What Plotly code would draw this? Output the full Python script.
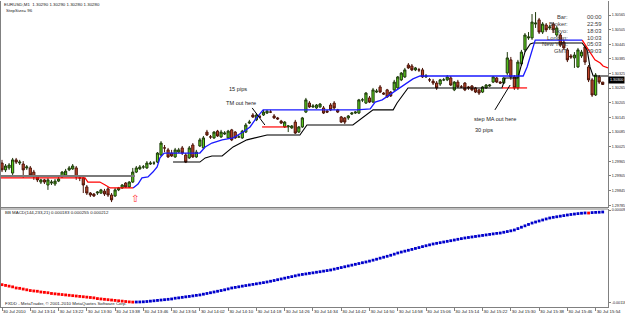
import plotly.graph_objects as go
import pandas as pd

# ---------------- data ----------------
times = pd.date_range("2010-07-30 13:06", periods=171, freq="min")
bars = list(range(171))

open_ = [1.29958,1.29930,1.29938,1.29917,1.29971,1.29958,1.29954,1.29938,1.29938,1.29921,
         1.29901,1.29880,1.29889,1.29868,1.29876,1.29872,1.29884,1.29901,1.29909,1.29930,
         1.29934,1.29938,1.29897,1.29897,1.29860,1.29835,1.29831,1.29835,1.29835,1.29843,
         1.29852,1.29827,1.29823,1.29848,1.29856,1.29876,1.29860,1.29880,1.29921,1.29934,
         1.29942,1.29938,1.29954,1.29958,1.29962,1.29991,1.30020,1.30012,1.29999,1.29983,
         1.30003,1.30020,1.29991,1.29979,1.30032,1.29983,1.30028,1.30020,1.30085,1.30065,
         1.30061,1.30089,1.30065,1.30077,1.30061,1.30094,1.30085,1.30065,1.30061,1.30085,
         1.30122,1.30155,1.30135,1.30147,1.30155,1.30163,1.30167,1.30151,1.30143,1.30130,
         1.30106,1.30106,1.30102,1.30126,1.30085,1.30106,1.30167,1.30204,1.30188,1.30184,
         1.30188,1.30184,1.30171,1.30196,1.30204,1.30176,1.30147,1.30143,1.30143,1.30159,
         1.30163,1.30163,1.30217,1.30204,1.30225,1.30208,1.30249,1.30270,1.30245,1.30258,
         1.30249,1.30258,1.30266,1.30299,1.30311,1.30360,1.30356,1.30340,1.30340,1.30340,
         1.30311,1.30299,1.30294,1.30286,1.30282,1.30299,1.30299,1.30307,1.30258,1.30290,
         1.30270,1.30286,1.30270,1.30274,1.30266,1.30258,1.30249,1.30266,1.30274,1.30290,
         1.30307,1.30290,1.30286,1.30327,1.30381,1.30311,1.30266,1.30364,1.30422,1.30471,
         1.30471,1.30528,1.30545,1.30495,1.30524,1.30512,1.30528,1.30483,1.30483,1.30454,
         1.30422,1.30397,1.30389,1.30352,1.30397,1.30434,1.30352,1.30299,1.30237,1.30311,
         1.30290]
close = [1.29930,1.29946,1.29950,1.29971,1.29962,1.29962,1.29930,1.29942,1.29909,1.29901,
         1.29889,1.29889,1.29880,1.29889,1.29880,1.29884,1.29893,1.29921,1.29925,1.29938,
         1.29946,1.29901,1.29897,1.29868,1.29835,1.29827,1.29823,1.29839,1.29848,1.29831,
         1.29827,1.29807,1.29848,1.29856,1.29868,1.29860,1.29880,1.29921,1.29938,1.29942,
         1.29942,1.29958,1.29958,1.29958,1.29999,1.30040,1.30020,1.29983,1.29987,1.30012,
         1.30012,1.29999,1.29962,1.30020,1.29983,1.30003,1.30053,1.30061,1.30073,1.30065,
         1.30085,1.30069,1.30085,1.30081,1.30089,1.30053,1.30061,1.30065,1.30089,1.30114,
         1.30126,1.30147,1.30155,1.30147,1.30167,1.30171,1.30167,1.30143,1.30139,1.30122,
         1.30126,1.30110,1.30110,1.30081,1.30106,1.30143,1.30217,1.30188,1.30192,1.30196,
         1.30200,1.30163,1.30167,1.30176,1.30184,1.30167,1.30126,1.30126,1.30151,1.30163,
         1.30167,1.30217,1.30217,1.30245,1.30208,1.30258,1.30253,1.30249,1.30241,1.30229,
         1.30233,1.30290,1.30311,1.30327,1.30340,1.30348,1.30340,1.30348,1.30340,1.30311,
         1.30315,1.30299,1.30286,1.30266,1.30299,1.30299,1.30311,1.30278,1.30290,1.30270,
         1.30270,1.30258,1.30266,1.30258,1.30249,1.30245,1.30270,1.30278,1.30278,1.30311,
         1.30290,1.30286,1.30307,1.30389,1.30311,1.30266,1.30372,1.30413,1.30483,1.30475,
         1.30536,1.30532,1.30495,1.30528,1.30504,1.30516,1.30504,1.30512,1.30442,1.30430,
         1.30381,1.30393,1.30401,1.30422,1.30413,1.30372,1.30299,1.30237,1.30319,1.30290,
         1.30280]
high = [1.29971,1.29954,1.29958,1.29979,1.29979,1.29971,1.29966,1.29950,1.29946,1.29930,
        1.29909,1.29893,1.29893,1.29897,1.29889,1.29893,1.29901,1.29925,1.29934,1.29946,
        1.29954,1.29946,1.29909,1.29905,1.29868,1.29839,1.29835,1.29843,1.29852,1.29852,
        1.29860,1.29835,1.29856,1.29860,1.29872,1.29880,1.29884,1.29938,1.29946,1.29950,
        1.29950,1.29966,1.29966,1.29966,1.30003,1.30048,1.30032,1.30020,1.30012,1.30020,
        1.30020,1.30028,1.29999,1.30028,1.30040,1.30012,1.30061,1.30069,1.30094,1.30073,
        1.30089,1.30094,1.30094,1.30089,1.30094,1.30098,1.30089,1.30073,1.30094,1.30122,
        1.30135,1.30163,1.30163,1.30155,1.30176,1.30176,1.30176,1.30159,1.30147,1.30135,
        1.30130,1.30114,1.30114,1.30135,1.30110,1.30147,1.30225,1.30212,1.30200,1.30200,
        1.30204,1.30192,1.30176,1.30204,1.30212,1.30180,1.30151,1.30147,1.30155,1.30167,
        1.30171,1.30221,1.30225,1.30249,1.30233,1.30266,1.30262,1.30278,1.30249,1.30262,
        1.30253,1.30299,1.30315,1.30331,1.30348,1.30368,1.30364,1.30352,1.30348,1.30348,
        1.30323,1.30307,1.30303,1.30294,1.30303,1.30307,1.30319,1.30315,1.30294,1.30299,
        1.30278,1.30290,1.30274,1.30278,1.30270,1.30262,1.30274,1.30282,1.30282,1.30315,
        1.30311,1.30294,1.30311,1.30413,1.30393,1.30319,1.30381,1.30422,1.30491,1.30495,
        1.30569,1.30577,1.30553,1.30536,1.30532,1.30524,1.30536,1.30520,1.30491,1.30463,
        1.30430,1.30405,1.30413,1.30430,1.30422,1.30442,1.30360,1.30307,1.30327,1.30319,
        1.30290]
low = [1.29921,1.29921,1.29930,1.29909,1.29954,1.29950,1.29897,1.29930,1.29901,1.29889,
       1.29880,1.29872,1.29872,1.29848,1.29868,1.29864,1.29880,1.29897,1.29905,1.29925,
       1.29930,1.29889,1.29884,1.29835,1.29827,1.29819,1.29819,1.29827,1.29831,1.29823,
       1.29819,1.29798,1.29819,1.29843,1.29852,1.29856,1.29856,1.29876,1.29917,1.29930,
       1.29934,1.29934,1.29950,1.29950,1.29958,1.29987,1.30003,1.29979,1.29983,1.29979,
       1.29999,1.29991,1.29958,1.29975,1.29979,1.29979,1.30024,1.30016,1.30069,1.30057,
       1.30057,1.30065,1.30061,1.30073,1.30057,1.30048,1.30057,1.30061,1.30057,1.30081,
       1.30118,1.30143,1.30130,1.30143,1.30151,1.30159,1.30163,1.30139,1.30135,1.30118,
       1.30102,1.30085,1.30098,1.30077,1.30081,1.30102,1.30163,1.30184,1.30184,1.30180,
       1.30184,1.30159,1.30163,1.30171,1.30176,1.30163,1.30122,1.30118,1.30135,1.30155,
       1.30159,1.30159,1.30208,1.30200,1.30204,1.30204,1.30245,1.30245,1.30237,1.30225,
       1.30229,1.30253,1.30262,1.30294,1.30307,1.30344,1.30335,1.30335,1.30331,1.30307,
       1.30307,1.30290,1.30278,1.30258,1.30274,1.30294,1.30294,1.30274,1.30253,1.30266,
       1.30266,1.30253,1.30258,1.30253,1.30245,1.30237,1.30245,1.30262,1.30270,1.30286,
       1.30286,1.30282,1.30282,1.30319,1.30299,1.30258,1.30258,1.30356,1.30413,1.30463,
       1.30463,1.30512,1.30487,1.30487,1.30495,1.30504,1.30491,1.30475,1.30434,1.30422,
       1.30372,1.30385,1.30348,1.30348,1.30389,1.30360,1.30290,1.30229,1.30233,1.30282,
       1.30280]

# BB MACD values (x 1e-5)
macd_e5 = [-93,-94,-95,-96,-97.5,-98,-99,-100,-101,-101.6,
           -102,-103,-103.5,-104,-105,-105.5,-106,-106.5,-107,-107.5,
           -108,-108.5,-109,-109.5,-110,-110.5,-111,-112,-112.5,-113,
           -113.5,-114,-114.5,-115,-115.5,-116,-116.5,-116.8,-116.7,-116.6,
           -116.4,-116,-115.5,-115,-114.5,-114,-113.5,-113,-112.5,-111.5,
           -111,-110.3,-109.6,-109,-108.3,-107.6,-107,-106,-105,-104,
           -103,-102,-101,-100,-98.8,-97.5,-96.7,-95.9,-95,-94.2,
           -93.4,-92.6,-91.8,-91,-90.2,-89.3,-88.3,-87.3,-86.2,-85.2,
           -84.1,-83,-82,-80.9,-79.8,-79,-78.3,-77.5,-76.8,-76,
           -75.3,-74.5,-73.7,-72.9,-71.8,-70.7,-69.6,-68.5,-67.4,-66.3,
           -65.2,-64.1,-63,-62,-60.8,-59.5,-58.2,-56.8,-55.5,-54.2,
           -52.8,-51.3,-49.7,-48.4,-47.2,-46,-44.8,-43.5,-42.3,-41,
           -39.8,-38.6,-37.4,-36.5,-35.6,-34.7,-33.8,-32.9,-32,-31,
           -30.1,-29.2,-28.5,-27.8,-27.1,-26.4,-25.7,-25,-24.3,-23.6,
           -22.9,-22.4,-21.4,-20.4,-19.4,-18.3,-16.4,-14.5,-12.6,-10.7,
           -8.8,-7.4,-6,-4.6,-3.2,-1.9,-1,-0.2,0.6,1.4,
           2.2,2.9,3.5,4.1,4.6,5.0,4.9,5.5,5.8,6.0,
           6.3]

# indicator lines (bar index, price)
blue_bar = [37.1,38.5,39.6,41.3,42.7,43.9,44.7,45.9,56.0,57.5,59.4,62.3,65.4,68.2,70.2,71.6,
            73.9,100.5,104.2,105.6,107.6,110.4,112.7,114.6,116.3,118.3,147.5,148.6,150.0,150.9,164.2]
blue_val = [1.29856,1.29872,1.29897,1.29901,1.29921,1.29942,1.29979,1.29999,1.29999,1.30024,
            1.30040,1.30053,1.30061,1.30085,1.30106,1.30135,1.30176,1.30176,1.30180,1.30208,
            1.30217,1.30245,1.30266,1.30286,1.30303,1.30315,1.30315,1.30352,1.30422,1.30462,1.30462]
black_bar = [48.4,56.0,57.5,59.4,62.3,65.4,69.3,73.0,75.0,84.3,85.2,86.3,99.3,101.3,105.0,110.7,
             111.8,114.9,141.5,142.4,146.0,147.2,148.0,149.5,150.3,164.2,165.6,166.4,167.3,171.5]
black_val = [1.29962,1.29962,1.29979,1.29987,1.29987,1.30024,1.30053,1.30065,1.30073,1.30073,
             1.30094,1.30114,1.30114,1.30135,1.30176,1.30176,1.30204,1.30266,1.30266,1.30307,
             1.30307,1.30372,1.30413,1.30446,1.30450,1.30450,1.30422,1.30352,1.30315,1.30315]
red_left_bar = [-0.6,23.5,24.3,27.7,29.2,30.6,37.1]
red_left_val = [1.29897,1.29897,1.29880,1.29880,1.29868,1.29856,1.29856]
red_right_bar = [164.2,165.6,166.4,167.8,169.3,170.1,171.5]
red_right_val = [1.30462,1.30430,1.30413,1.30381,1.30368,1.30356,1.30348]
gray_segs = [([-0.6, 37.6], 1.29905), ([75.0, 84.3], 1.30073)]
exit_segs = [([73.6, 80.7], 1.30106), ([141.5, 148.6], 1.30266)]

price_ticks = [1.30565,1.30505,1.30445,1.30385,1.30325,1.30265,1.30205,1.30145,
               1.30085,1.30025,1.29965,1.29905,1.29845,1.29785]
tick_bars = list(range(0, 171, 8))
tick_text = ["30 Jul 2010" if i == 0 else "30 Jul " + times[i].strftime("%H:%M") for i in tick_bars]

info_labels = ["Bar:", "Broker:", "Tokyo:", "London:", "New York:", "GMT:"]
info_values = ["00:00", "22:59", "18:03", "10:03", "05:03", "09:03"]

# ---------------- figure ----------------
W, H = 625, 315
ML, MR, MT, MB = 0, 17, 1, 8
PW, PH = W - ML - MR, H - MT - MB
def px(x):  # pixel x -> paper
    return (x - ML) / PW
def py(y):  # pixel y -> paper
    return (H - MB - y) / PH

FONT = "Liberation Sans"
XR = [-0.57, 171.5]

fig = go.Figure()
fig.add_trace(go.Candlestick(
    x=bars, open=open_, high=high, low=low, close=close,
    increasing=dict(line=dict(color="#1f3a0c", width=1), fillcolor="#5cd11c"),
    decreasing=dict(line=dict(color="#4a1408", width=1), fillcolor="#c0442a"),
    whiskerwidth=0, hoverinfo="skip", xaxis="x", yaxis="y"))

for seg, v in gray_segs:
    fig.add_trace(go.Scatter(x=seg, y=[v, v], mode="lines",
                             line=dict(color="#7a7a7a", width=2.2), hoverinfo="skip"))
fig.add_trace(go.Scatter(x=black_bar, y=black_val, mode="lines",
                         line=dict(color="#000000", width=1.1), hoverinfo="skip"))
fig.add_trace(go.Scatter(x=[75.0, 84.3], y=[1.30073, 1.30073], mode="lines",
                         line=dict(color="#7a7a7a", width=2.2), hoverinfo="skip"))
fig.add_trace(go.Scatter(x=blue_bar, y=blue_val, mode="lines",
                         line=dict(color="#1a1aff", width=1.3), hoverinfo="skip"))
fig.add_trace(go.Scatter(x=red_left_bar, y=red_left_val, mode="lines",
                         line=dict(color="#ff0000", width=1.2), hoverinfo="skip"))
fig.add_trace(go.Scatter(x=red_right_bar, y=red_right_val, mode="lines",
                         line=dict(color="#ff0000", width=1.2), hoverinfo="skip"))
for seg, v in exit_segs:
    fig.add_trace(go.Scatter(x=seg, y=[v, v], mode="lines",
                             line=dict(color="#ff0000", width=1.2), hoverinfo="skip"))

macd = [v * 1e-5 for v in macd_e5]
dot_colors = ["#ff0000" if (i == 0 or macd[i] < macd[i - 1]) else "#0000cc" for i in range(len(macd))]
fig.add_trace(go.Scatter(x=bars, y=macd, mode="markers", xaxis="x2", yaxis="y2",
                         marker=dict(symbol="square", size=2.8, color=dot_colors, line=dict(width=0)),
                         hoverinfo="skip"))

axis_col = "#808080"
tf = dict(family=FONT, size=4.4, color="#222")
yf = dict(family=FONT, size=3.7, color="#222")
fig.update_layout(
    width=W, height=H, margin=dict(l=ML, r=MR, t=MT, b=MB, autoexpand=False),
    paper_bgcolor="white", plot_bgcolor="white", showlegend=False, boxgap=0.12,
    xaxis=dict(domain=[0, 1], range=XR, anchor="y", showticklabels=False, showgrid=False,
               zeroline=False, rangeslider=dict(visible=False), showline=True,
               linecolor=axis_col, linewidth=1, ticks="", automargin=False),
    yaxis=dict(domain=[py(207), 1], range=[1.297778, 1.306224], side="right", anchor="x",
               tickvals=price_ticks, tickformat=".5f", ticks="outside", ticklen=2,
               tickcolor=axis_col, tickfont=yf, showline=True, linecolor=axis_col,
               showgrid=False, zeroline=False, automargin=False),
    xaxis2=dict(domain=[0, 1], range=XR, anchor="y2", tickvals=tick_bars, ticktext=tick_text,
                ticks="outside", ticklen=3, tickcolor=axis_col, tickfont=tf, tickangle=0,
                ticklabelposition="outside right", showline=True, linecolor=axis_col,
                showgrid=False, zeroline=False, automargin=False),
    yaxis2=dict(domain=[0, py(209)], range=[-0.001235, 0.000104], side="right", anchor="x2",
                tickvals=[0.00009, -0.00118], ticktext=["0.00009", "-0.00118"],
                ticks="outside", ticklen=2, tickcolor=axis_col, tickfont=yf,
                showline=True, linecolor=axis_col, showgrid=False, zeroline=False,
                automargin=False),
)

shapes = [
    dict(type="line", xref="paper", yref="paper", x0=0, x1=1, y0=py(209), y1=py(209),
         line=dict(color=axis_col, width=1)),
    dict(type="line", xref="paper", yref="paper", x0=px(0.5), x1=px(0.5), y0=0, y1=1,
         line=dict(color=axis_col, width=1)),
    # annotation pointer lines
    dict(type="line", xref="x", yref="y", x0=70.8, y0=1.30184, x1=74.4, y1=1.30114,
         line=dict(color="#000", width=1)),
    dict(type="line", xref="x", yref="y", x0=139.5, y0=1.30176, x1=143.8, y1=1.30278,
         line=dict(color="#000", width=1)),
]
fig.update_layout(shapes=shapes)

ann = []
def txt(x, y, s, size=4.4, anchor="left", color="#222", xref="paper", yref="paper", **kw):
    ann.append(dict(x=x, y=y, xref=xref, yref=yref, text=s, showarrow=False,
                    xanchor=anchor, yanchor="middle",
                    font=dict(family=FONT, size=size, color=color), **kw))

txt(px(2), py(5), "EURUSD,M1  1.30290 1.30290 1.30280 1.30280")
txt(px(4), py(10), "StepSize= 96")
txt(px(3), py(212), "BB MACD(144,233,21) 0.000183 0.000255 0.000212")
txt(px(3), py(303), "FXDD - MetaTrader, © 2001-2010 MetaQuotes Software Corp.")

info_rows = [16.7, 24.3, 31, 37.7, 44.3, 51]
for lab, val, yy in zip(info_labels, info_values, info_rows):
    txt(px(570), py(yy), lab, size=5.8, anchor="right", color="#3a3a3a")
    txt(px(585), py(yy), val, size=5.8, anchor="left", color="#3a3a3a")

txt(66.8, 1.30262, "15 pips", size=5.6, anchor="center", color="#222", xref="x", yref="y")
txt(67.6, 1.30204, "TM out here", size=5.6, anchor="center", color="#222", xref="x", yref="y")
txt(139.5, 1.30139, "step MA out here", size=5.6, anchor="center", color="#222", xref="x", yref="y")
txt(136.4, 1.30094, "30 pips", size=5.6, anchor="center", color="#222", xref="x", yref="y")

ann.append(dict(x=37.6, y=1.29813, xref="x", yref="y", text="⇧", showarrow=False,
                font=dict(family="DejaVu Sans", size=10, color="#ff3030")))

ann.append(dict(x=1, y=1.30300, xref="paper", yref="y", text="1.30300", showarrow=False,
                xanchor="left", yanchor="middle", bgcolor="#000", borderpad=1,
                font=dict(family=FONT, size=3.7, color="#fff")))
fig.update_layout(annotations=ann)

fig.write_html("out.html")
